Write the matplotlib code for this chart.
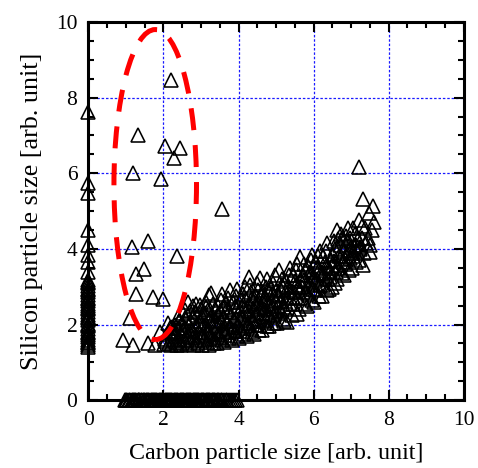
import matplotlib
matplotlib.use('Agg')
import matplotlib.pyplot as plt
from matplotlib.patches import Ellipse
from matplotlib.ticker import MultipleLocator

plt.rcParams['font.family'] = ['Liberation Serif', 'DejaVu Serif']

# points on the y axis (carbon size = 0)
axis_y_vals = [7.63, 5.73, 5.47, 4.50, 4.10, 3.84, 3.66, 3.39, 3.17, 3.09, 3.01, 2.94,
               2.86, 2.77, 2.71, 2.63, 2.54, 2.48, 2.41, 2.32, 2.26, 2.17, 2.11, 2.02,
               1.96, 1.87, 1.81, 1.72, 1.67, 1.58, 1.52, 1.46, 1.41, 3.13, 2.90, 2.67,
               2.44, 2.21, 1.99, 1.77, 1.55]

# points on the x axis (silicon size = 0)
axis_x_vals = [0.98, 1.04, 1.11, 1.19, 1.25, 1.31, 1.36, 1.44, 1.49, 1.56, 1.62, 1.69,
               1.74, 1.81, 1.87, 1.93, 1.99, 2.06, 2.12, 2.17, 2.24, 2.31, 2.36, 2.43,
               2.49, 2.55, 2.62, 2.68, 2.74, 2.81, 2.86, 2.93, 2.99, 3.06, 3.12, 3.18,
               3.24, 3.31, 3.37, 3.42, 3.49, 3.57, 3.66, 3.74, 3.85, 3.95,
               1.01, 1.08, 1.15, 1.22, 1.28, 1.34, 1.40, 1.47, 1.53, 1.59, 1.66, 1.72,
               1.78, 1.84, 1.90, 1.96, 2.03, 2.09, 2.15, 2.21, 2.27, 2.34, 2.40, 2.46,
               2.52, 2.59, 2.65, 2.71, 2.78, 2.84, 2.90, 2.96, 3.03, 3.09, 3.15, 3.21,
               3.28, 3.34, 3.45, 3.53, 3.62, 3.70, 3.80, 3.90]

# scattered points inside the marked ellipse
outlier_x = [2.21, 1.32, 2.05, 2.43, 2.27, 1.20, 1.94, 3.56, 1.60, 1.16, 2.37, 1.49,
             1.27, 1.27, 1.71, 2.00, 1.11, 0.93, 1.20, 1.60, 1.78, 1.91, 2.22, 2.58,
             2.98, 3.20]
outlier_y = [8.47, 7.01, 6.72, 6.66, 6.41, 6.00, 5.84, 5.06, 4.21, 4.06, 3.82, 3.48,
             3.33, 2.82, 2.73, 2.68, 2.16, 1.59, 1.46, 1.50, 1.46, 1.81, 1.94, 2.38,
             2.51, 2.78]

# main band
band_x = [2.02, 2.05, 2.10, 2.15, 2.18, 2.20, 2.12,
          2.25, 2.28, 2.30, 2.35, 2.38, 2.32, 2.40,
          2.45, 2.47, 2.50, 2.52, 2.55, 2.58, 2.60, 2.48,
          2.62, 2.65, 2.68, 2.70, 2.72, 2.75, 2.78, 2.80, 2.66,
          2.82, 2.85, 2.88, 2.90, 2.92, 2.95, 2.98, 3.00, 2.86,
          3.02, 3.05, 3.08, 3.10, 3.12, 3.15, 3.18, 3.20, 3.14,
          3.22, 3.25, 3.28, 3.30, 3.32, 3.35, 3.38, 3.40, 3.26, 3.36,
          3.42, 3.45, 3.48, 3.50, 3.52, 3.55, 3.58, 3.60, 3.46, 3.56,
          3.62, 3.65, 3.68, 3.70, 3.72, 3.75, 3.78, 3.80, 3.66, 3.76,
          3.82, 3.85, 3.88, 3.90, 3.92, 3.95, 3.98, 4.00, 3.86, 3.96,
          4.02, 4.05, 4.08, 4.10, 4.12, 4.15, 4.18, 4.20, 4.06, 4.16,
          4.22, 4.25, 4.28, 4.30, 4.32, 4.35, 4.38, 4.40, 4.27, 4.36, 4.30,
          4.42, 4.45, 4.48, 4.50, 4.52, 4.55, 4.58, 4.60, 4.46, 4.56, 4.50,
          4.62, 4.65, 4.68, 4.70, 4.72, 4.75, 4.78, 4.80, 4.66, 4.76,
          4.82, 4.85, 4.88, 4.90, 4.92, 4.95, 4.98, 5.00, 4.86, 4.96,
          5.02, 5.05, 5.07, 5.10, 5.12, 5.15, 5.18, 5.20, 5.06, 5.16,
          5.22, 5.25, 5.29, 5.30, 5.32, 5.35, 5.38, 5.40, 5.26, 5.36,
          5.42, 5.45, 5.48, 5.50, 5.52, 5.56, 5.58, 5.60, 5.46, 5.55,
          5.62, 5.65, 5.68, 5.70, 5.72, 5.75, 5.78, 5.80, 5.66, 5.76,
          5.82, 5.85, 5.88, 5.90, 5.92, 5.95, 5.98, 6.00, 5.86, 5.96,
          6.02, 6.05, 6.08, 6.10, 6.12, 6.15, 6.18, 6.20, 6.06, 6.16,
          6.22, 6.25, 6.28, 6.30, 6.32, 6.35, 6.38, 6.40, 6.26, 6.36,
          6.42, 6.45, 6.49, 6.50, 6.52, 6.55, 6.58, 6.60, 6.46, 6.56, 6.62,
          6.62, 6.65, 6.68, 6.70, 6.72, 6.75, 6.78, 6.80, 6.66, 6.76,
          6.82, 6.85, 6.88, 6.90, 6.93, 6.95, 6.98, 7.00, 6.86, 6.96,
          7.02, 7.05, 7.08, 7.10, 7.12, 7.15, 7.20, 7.18, 7.06,
          7.22, 7.25, 7.28, 7.33, 7.30, 7.38, 7.35, 7.33, 7.40,
          7.47, 7.51, 7.56, 7.58, 7.62, 7.45, 7.50, 7.20]
band_y = [1.48, 1.62, 1.75, 1.52, 1.90, 1.45, 2.05,
          1.60, 1.80, 2.00, 1.47, 2.20, 1.70, 1.90,
          1.50, 1.75, 2.05, 2.30, 1.60, 1.90, 2.15, 1.45,
          1.48, 1.70, 2.00, 2.35, 1.55, 1.85, 2.20, 2.50, 2.60,
          1.45, 1.65, 1.95, 2.25, 1.50, 1.80, 2.10, 2.40, 2.55,
          1.47, 1.70, 2.00, 2.30, 2.60, 1.55, 1.85, 2.15, 2.45,
          1.45, 1.65, 1.95, 2.25, 2.55, 1.50, 1.80, 2.10, 2.83, 2.40,
          1.50, 1.75, 2.05, 2.35, 2.65, 1.60, 1.90, 2.20, 2.50, 2.80,
          1.55, 1.80, 2.10, 2.40, 2.70, 1.65, 1.95, 2.25, 2.55, 2.90,
          1.60, 1.85, 2.15, 2.45, 2.75, 1.70, 2.00, 2.30, 2.60, 2.95,
          1.65, 1.90, 2.20, 2.50, 2.80, 1.75, 2.05, 2.35, 2.65, 3.00,
          1.70, 1.95, 2.25, 2.55, 2.85, 1.80, 2.10, 2.40, 3.26, 2.70, 3.05,
          1.75, 2.00, 2.30, 2.60, 2.90, 1.85, 3.22, 2.45, 2.75, 2.15, 3.10,
          1.85, 2.10, 2.40, 2.70, 3.00, 1.95, 2.25, 2.55, 2.85, 3.20,
          1.95, 2.20, 2.50, 2.80, 3.10, 2.05, 2.35, 2.65, 2.95, 3.30,
          2.05, 2.30, 3.44, 2.60, 2.90, 3.20, 2.15, 2.45, 2.75, 3.05,
          2.10, 2.40, 2.07, 2.70, 3.00, 3.30, 2.55, 2.85, 3.15, 3.50,
          2.25, 2.55, 2.85, 3.15, 3.45, 2.29, 2.70, 3.00, 3.30, 3.60,
          2.40, 3.79, 2.70, 3.00, 3.30, 3.60, 2.55, 2.85, 3.15, 3.45,
          2.50, 2.80, 3.10, 3.40, 3.70, 2.65, 2.95, 3.25, 3.55, 3.85,
          2.60, 2.90, 3.20, 3.50, 3.80, 2.75, 3.05, 3.35, 3.65, 3.95,
          2.75, 3.05, 3.35, 3.65, 3.95, 2.90, 3.20, 3.50, 3.80, 4.15,
          2.95, 3.25, 3.00, 3.55, 3.85, 4.20, 3.10, 3.40, 3.70, 4.00, 4.50,
          3.20, 3.50, 3.80, 4.10, 4.40, 3.35, 3.65, 3.95, 4.25, 4.30,
          3.30, 3.60, 3.90, 4.20, 4.55, 3.45, 3.75, 4.05, 4.35, 4.30,
          3.50, 3.80, 4.10, 4.40, 3.65, 3.95, 4.76, 4.25, 4.55,
          3.70, 4.00, 4.30, 3.57, 4.60, 4.54, 3.90, 5.31, 4.15,
          4.96, 3.92, 4.50, 5.13, 4.72, 4.30, 4.10, 6.17]

# extra readings in the densest part of the band
dense_x = [2.08, 2.14, 2.22, 2.27, 2.33, 2.42, 2.44, 2.53, 2.57, 2.63, 2.69, 2.74,
           2.79, 2.84, 2.89, 2.94, 2.99, 3.04, 3.09, 3.13, 3.19, 3.24, 3.29, 3.34,
           3.39, 3.44, 3.49, 3.54, 3.59, 3.64, 3.69, 3.74, 3.79, 3.84, 3.89, 3.94,
           3.99, 4.04, 4.09, 4.14, 4.19, 4.24, 4.29, 4.34, 4.39, 4.44, 4.49, 4.54,
           4.59, 4.64, 4.69, 4.74, 4.79, 4.84, 4.89, 4.94, 4.99, 5.04, 5.09, 5.14,
           5.19, 5.24, 5.34, 5.44, 5.54, 5.64, 5.74, 5.84, 5.94, 6.04, 6.14, 6.24,
           6.34, 6.44, 6.54, 6.64, 6.74, 6.84, 6.94, 7.04, 7.14, 7.24]
dense_y = [1.56, 1.83, 1.66, 1.92, 1.55, 2.08, 1.62, 1.85, 2.18, 1.58, 1.82, 2.10,
           1.68, 2.32, 1.58, 2.02, 1.72, 2.22, 1.60, 1.92, 2.38, 1.75, 2.10, 1.62,
           2.00, 2.28, 1.68, 2.12, 2.45, 1.72, 2.02, 2.32, 1.80, 2.60, 2.08, 1.84,
           2.48, 2.12, 1.82, 2.40, 2.68, 2.05, 2.35, 1.90, 2.62, 2.25, 2.48, 2.00,
           2.80, 2.30, 2.55, 2.12, 2.92, 2.40, 2.62, 2.25, 2.88, 2.50, 2.78, 2.35,
           3.00, 2.62, 2.92, 2.72, 3.05, 2.95, 3.18, 3.05, 3.30, 3.15, 3.45, 3.30,
           3.55, 3.42, 3.68, 3.58, 3.82, 3.72, 3.98, 3.88, 4.10, 4.05]

fig = plt.figure(figsize=(4.78, 4.68), dpi=100)
ax = fig.add_axes([0.185, 0.145, 0.785, 0.808])

mk = dict(marker='^', markersize=9.4, markerfacecolor='none', markeredgecolor='black',
          markeredgewidth=1.15, linestyle='none', zorder=3)
ax.plot(band_x, band_y, **mk)
ax.plot(dense_x, dense_y, **mk)
ax.plot(outlier_x, outlier_y, **mk)
ax.plot([0] * len(axis_y_vals), axis_y_vals, clip_on=False, **mk)
ax.plot(axis_x_vals, [0] * len(axis_x_vals), clip_on=False, **mk)

ell = Ellipse((1.78, 5.7), 2.2, 8.2, fill=False, edgecolor='#ff0000', linewidth=3.6,
              linestyle=(0, (4.4, 3.0)), zorder=4)
ell.set_capstyle('butt')
ax.add_patch(ell)

ax.set_xlim(0, 10)
ax.set_ylim(0, 10)
ax.xaxis.set_major_locator(MultipleLocator(2))
ax.yaxis.set_major_locator(MultipleLocator(2))
ax.xaxis.set_minor_locator(MultipleLocator(0.5))
ax.yaxis.set_minor_locator(MultipleLocator(0.5))
ax.tick_params(which='both', direction='in', top=True, right=True, labelsize=15.5, pad=8)
ax.tick_params(which='major', length=7, width=1.5)
ax.tick_params(which='minor', length=4, width=1.5)
for s in ax.spines.values():
    s.set_linewidth(2.2)

ax.grid(True, which='major', color='#1a1aff', linestyle=(0, (2, 1.5)), linewidth=0.9)
ax.set_axisbelow(True)

ax.set_xlabel('Carbon particle size [arb. unit]', fontsize=17.3, labelpad=9)
ax.set_ylabel('Silicon particle size [arb. unit]', fontsize=18.8, labelpad=9)

fig.savefig('out.png', dpi=100)
